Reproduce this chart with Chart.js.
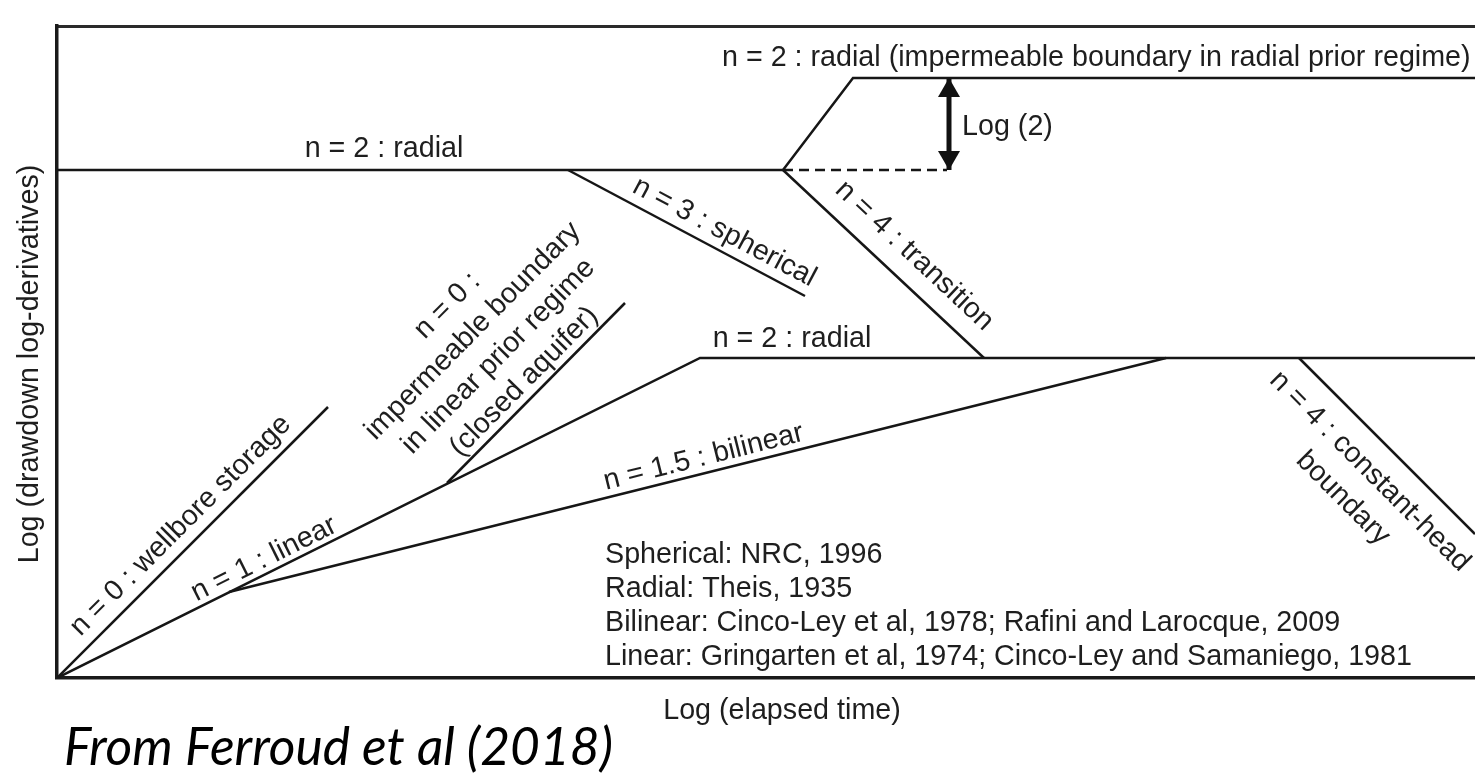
<!DOCTYPE html>
<html>
<head>
<meta charset="utf-8">
<title>Diagnostic plot - flow regimes</title>
<script src="https://cdn.jsdelivr.net/npm/chart.js@4/dist/chart.umd.min.js"></script>
<style>
    html, body { margin: 0; padding: 0; background: #fff; }
    canvas { display: block; }
</style>
</head>
<body>
<canvas id="grafico" width="1475" height="773"></canvas>
<script>
// segments of the log-derivative curves, [log t, log ds/dlnt]
var wellbore      = [[0, 0], [2.71, 2.71]];
var linearRadial  = [[0, 0], [6.43, 3.20], [14.18, 3.20]];
var bilinear      = [[1.72, 0.86], [11.09, 3.20]];
var closedAquifer = [[3.90, 1.95], [5.68, 3.75]];
var constantHead  = [[12.42, 3.20], [14.18, 1.44]];
var upperRadial   = [[0, 5.08], [7.26, 5.08]];
var spherical     = [[5.11, 5.08], [7.48, 3.82]];
var transition    = [[7.26, 5.08], [9.27, 3.20]];
var boundaryStep  = [[7.26, 5.08], [7.96, 6.00], [14.18, 6.00]];
var priorLevel    = [[7.26, 5.08], [8.90, 5.08]];
var log2Arrow     = [[8.92, 5.08], [8.92, 6.00]];

var xMax = 14.18;
var yMax = 6.52;

var references = [
    'Spherical: NRC, 1996',
    'Radial: Theis, 1935',
    'Bilinear: Cinco-Ley et al, 1978; Rafini and Larocque, 2009',
    'Linear: Gringarten et al, 1974; Cinco-Ley and Samaniego, 1981'
];

// labels: anchor in data units, rotation follows the segment it describes
var etiquetas = [
    { lines: ['n = 2 : radial (impermeable boundary in radial prior regime)'], x: 6.65, y: 6.22, align: 'left' },
    { lines: ['Log (2)'], x: 9.05, y: 5.53, align: 'left' },
    { lines: ['n = 2 : radial'], x: 3.27, y: 5.31 },
    { lines: ['n = 2 : radial'], x: 7.35, y: 3.41 },
    { lines: ['n = 3 : spherical'], x: 6.685, y: 4.48, seg: spherical },
    { lines: ['n = 4 : transition'], x: 8.59, y: 4.24, seg: transition },
    { lines: ['n = 0 : wellbore storage'], x: 1.22, y: 1.54, seg: wellbore },
    { lines: ['n = 1 : linear'], x: 2.06, y: 1.21, seg: linearRadial },
    { lines: ['n = 0 :', 'impermeable boundary', 'in linear prior regime', '(closed aquifer)'], x: 4.27, y: 3.36, seg: closedAquifer, gap: 36 },
    { lines: ['n = 1.5 : bilinear'], x: 6.46, y: 2.23, seg: bilinear },
    { lines: ['n = 4 : constant-head', 'boundary'], x: 13.01, y: 1.95, seg: constantHead, gap: 38 }
];

var negro = '#161616';
var texto = '#1e1e1e';
var fuente = '"Liberation Sans", Arial, sans-serif';
var tam = 28.7;

function puntos(arr){
    return arr.map(function(p){ return { x: p[0], y: p[1] }; });
}

function serie(arr, extra){
    var ds = {
        data: puntos(arr),
        showLine: true,
        borderColor: negro,
        borderWidth: 2.5,
        pointRadius: 0,
        fill: false,
        tension: 0
    };
    return Object.assign(ds, extra || {});
}

// writes a block of lines centred (or left aligned) on px,py, rotated by ang
function escribir(ctx, lines, px, py, ang, gap, align){
    ctx.save();
    ctx.translate(px, py);
    ctx.rotate(ang);
    ctx.textAlign = align || 'center';
    ctx.textBaseline = 'alphabetic';
    var n = lines.length;
    lines.forEach(function(t, i){
        ctx.fillText(t, 0, (i - (n - 1) / 2) * gap + tam * 0.36);
    });
    ctx.restore();
}

var textosPlugin = {
    id: 'textos',
    afterDatasetsDraw: function(chart){
        var ctx = chart.ctx;
        var sx = chart.scales.x, sy = chart.scales.y;
        var area = chart.chartArea;

        // arrow heads on the Log (2) marker
        var flecha = chart.getDatasetMeta(chart.data.datasets.length - 1).data;
        ctx.save();
        ctx.fillStyle = '#111';
        [[flecha[1], 1], [flecha[0], -1]].forEach(function(f){
            var p = f[0], d = f[1];
            ctx.beginPath();
            ctx.moveTo(p.x, p.y);
            ctx.lineTo(p.x - 11, p.y + d * 19);
            ctx.lineTo(p.x + 11, p.y + d * 19);
            ctx.closePath();
            ctx.fill();
        });
        ctx.restore();

        ctx.save();
        ctx.fillStyle = texto;
        ctx.font = tam + 'px ' + fuente;

        etiquetas.forEach(function(e){
            var ang = 0;
            if(e.seg){
                var a = e.seg[0], b = e.seg[1];
                var dx = sx.getPixelForValue(b[0]) - sx.getPixelForValue(a[0]);
                var dy = sy.getPixelForValue(b[1]) - sy.getPixelForValue(a[1]);
                ang = Math.atan2(dy, dx);
            }
            escribir(ctx, e.lines, sx.getPixelForValue(e.x), sy.getPixelForValue(e.y), ang, e.gap || 34, e.align);
        });

        // reference list
        references.forEach(function(r, i){
            escribir(ctx, [r], sx.getPixelForValue(5.48), sy.getPixelForValue(1.25 - i * 0.34), 0, 34, 'left');
        });

        // axis titles
        escribir(ctx, ['Log (elapsed time)'], sx.getPixelForValue(7.25), area.bottom + 31, 0, 34);
        escribir(ctx, ['Log (drawdown log-derivatives)'], 28, sy.getPixelForValue(3.14), -Math.PI / 2, 34);

        // source note
        var nota = 'From Ferroud et al (2018)';
        ctx.font = 'italic 44px Lato, "Open Sans", sans-serif';
        var w = ctx.measureText(nota).width;
        var size = 44 * 549 / w;
        ctx.font = 'italic ' + size.toFixed(1) + 'px Lato, "Open Sans", sans-serif';
        ctx.fillStyle = '#000';
        ctx.textAlign = 'left';
        ctx.textBaseline = 'alphabetic';
        ctx.fillText(nota, 64, 765);
        ctx.restore();
    }
};

var ctx = document.getElementById('grafico');

new Chart(ctx, {
    type: 'scatter',
    data: {
        datasets: [
            serie(wellbore),
            serie(linearRadial),
            serie(bilinear),
            serie(closedAquifer),
            serie(constantHead),
            serie(upperRadial),
            serie(spherical),
            serie(transition),
            serie(boundaryStep),
            serie(priorLevel, { borderDash: [10, 6] }),
            serie(log2Arrow, { borderWidth: 5, borderColor: '#111' })
        ]
    },
    options: {
        responsive: false,
        animation: false,
        events: [],
        layout: { padding: 0 },
        plugins: {
            legend: { display: false },
            tooltip: { enabled: false }
        },
        scales: {
            x: {
                type: 'linear',
                min: 0,
                max: xMax,
                ticks: { display: false },
                grid: { display: false },
                border: { display: true, color: '#1a1a1a', width: 3.5 },
                afterFit: function(s){ s.height = 95; }
            },
            xTop: {
                type: 'linear',
                position: 'top',
                min: 0,
                max: xMax,
                ticks: { display: false },
                grid: { display: false },
                border: { display: true, color: '#2a2a2a', width: 3 },
                afterFit: function(s){ s.height = 26; }
            },
            y: {
                type: 'linear',
                min: 0,
                max: yMax,
                ticks: { display: false },
                grid: { display: false },
                border: { display: true, color: '#1a1a1a', width: 3.5 },
                afterFit: function(s){ s.width = 57; }
            }
        }
    },
    plugins: [textosPlugin]
});
</script>
</body>
</html>
